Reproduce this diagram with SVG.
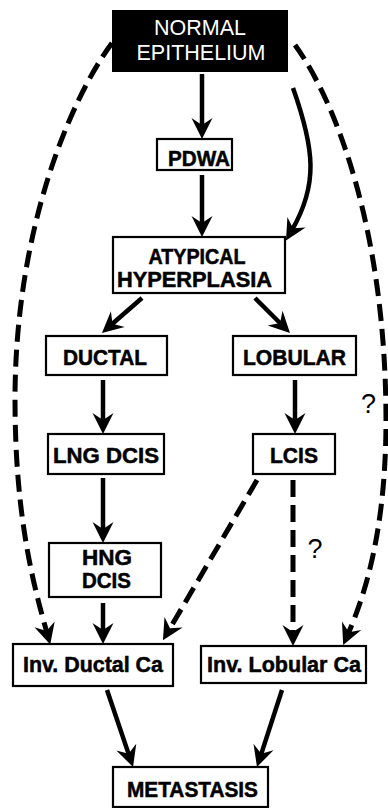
<svg xmlns="http://www.w3.org/2000/svg" width="388" height="808" viewBox="0 0 388 808">
<style>
.box{fill:#fff;stroke:#000;stroke-width:2.2}
.dark{fill:#000;stroke:#000;stroke-width:2}
.t{font-family:"Liberation Sans",Arial,sans-serif;font-weight:bold;font-size:21.5px;fill:#000;stroke:#000;stroke-width:0.5;text-anchor:middle}
.tw{font-family:"Liberation Sans",Arial,sans-serif;font-size:21.5px;fill:#fff;text-anchor:middle}
.q{font-family:"Liberation Sans",Arial,sans-serif;font-size:27px;fill:#000;text-anchor:middle}
.c{fill:none;stroke:#000;stroke-width:4.5;marker-end:url(#ah)}
.d{fill:none;stroke:#000;stroke-width:5;stroke-dasharray:17 8;marker-end:url(#ah)}
</style>
<defs>
<marker id="ah" markerUnits="userSpaceOnUse" viewBox="-23 -12 25 24" refX="-12" refY="0" markerWidth="25" markerHeight="24" orient="auto">
<path d="M0,0 L-21,-10.5 L-14,0 L-21,10.5 Z" fill="#000"/>
</marker>
</defs>
<rect width="388" height="808" fill="#fff"/>
<g id="connectors">
<path class="c" d="M202,74 L202,127"/>
<path class="c" d="M202,175 L202,225"/>
<path class="c" d="M293,88 C315,150 318,185 292,230"/>
<path class="c" d="M142,298 L111,325"/>
<path class="c" d="M255,298 L281.5,324.5"/>
<path class="c" d="M103,380 L103,422"/>
<path class="c" d="M295,380 L295,422"/>
<path class="c" d="M103,478 L103,531"/>
<path class="c" d="M103,603 L103,632"/>
<path class="d" d="M257,480 L169,630"/>
<path class="d" d="M293,480 L293,634"/>
<path class="d" d="M112,43 C70,100 15,230 15,400 C15,520 35,590 47,633"/>
<path class="d" d="M295,45 C335,100 386,230 386,420 C386,530 365,595 348,634"/>
<path class="c" d="M107,690 L129.2,755.6"/>
<path class="c" d="M282,690 L260.7,755.6"/>
<text class="q" x="368.5" y="413">?</text>
<text class="q" x="315" y="558">?</text>
</g>
<g id="normal">
<rect class="dark" x="113" y="11" width="174" height="60"/>
<text class="tw" x="200" y="35">NORMAL</text>
<text class="tw" x="201" y="60">EPITHELIUM</text>
</g>
<g id="pdwa">
<rect class="box" x="157" y="139" width="75" height="31"/>
<text class="t" x="199" y="166" textLength="62" lengthAdjust="spacingAndGlyphs">PDWA</text>
</g>
<g id="atypical">
<rect class="box" x="113" y="237" width="172" height="56"/>
<text class="t" x="197" y="264" textLength="97" lengthAdjust="spacingAndGlyphs">ATYPICAL</text>
<text class="t" x="194.5" y="287" textLength="155" lengthAdjust="spacingAndGlyphs">HYPERPLASIA</text>
</g>
<g id="ductal">
<rect class="box" x="46" y="336" width="121" height="39"/>
<text class="t" x="105" y="365" textLength="84" lengthAdjust="spacingAndGlyphs">DUCTAL</text>
</g>
<g id="lobular">
<rect class="box" x="233" y="336" width="123" height="39"/>
<text class="t" x="294.5" y="365" textLength="103" lengthAdjust="spacingAndGlyphs">LOBULAR</text>
</g>
<g id="lngdcis">
<rect class="box" x="48" y="434" width="116" height="40"/>
<text class="t" x="106" y="463" textLength="106" lengthAdjust="spacingAndGlyphs">LNG DCIS</text>
</g>
<g id="lcis">
<rect class="box" x="253" y="434" width="82" height="40"/>
<text class="t" x="294" y="463" textLength="48" lengthAdjust="spacingAndGlyphs">LCIS</text>
</g>
<g id="hngdcis">
<rect class="box" x="49" y="543" width="112" height="54"/>
<text class="t" x="107" y="565" textLength="50" lengthAdjust="spacingAndGlyphs">HNG</text>
<text class="t" x="106.5" y="588" textLength="49" lengthAdjust="spacingAndGlyphs">DCIS</text>
</g>
<g id="invductal">
<rect class="box" x="13" y="644" width="160" height="42"/>
<text class="t" x="93" y="672" textLength="140" lengthAdjust="spacingAndGlyphs">Inv. Ductal Ca</text>
</g>
<g id="invlobular">
<rect class="box" x="201" y="646" width="165" height="37"/>
<text class="t" x="284" y="672" textLength="154" lengthAdjust="spacingAndGlyphs">Inv. Lobular Ca</text>
</g>
<g id="metastasis">
<rect class="box" x="113" y="767" width="155" height="40"/>
<text class="t" x="192.5" y="797" textLength="131" lengthAdjust="spacingAndGlyphs">METASTASIS</text>
</g>
</svg>
